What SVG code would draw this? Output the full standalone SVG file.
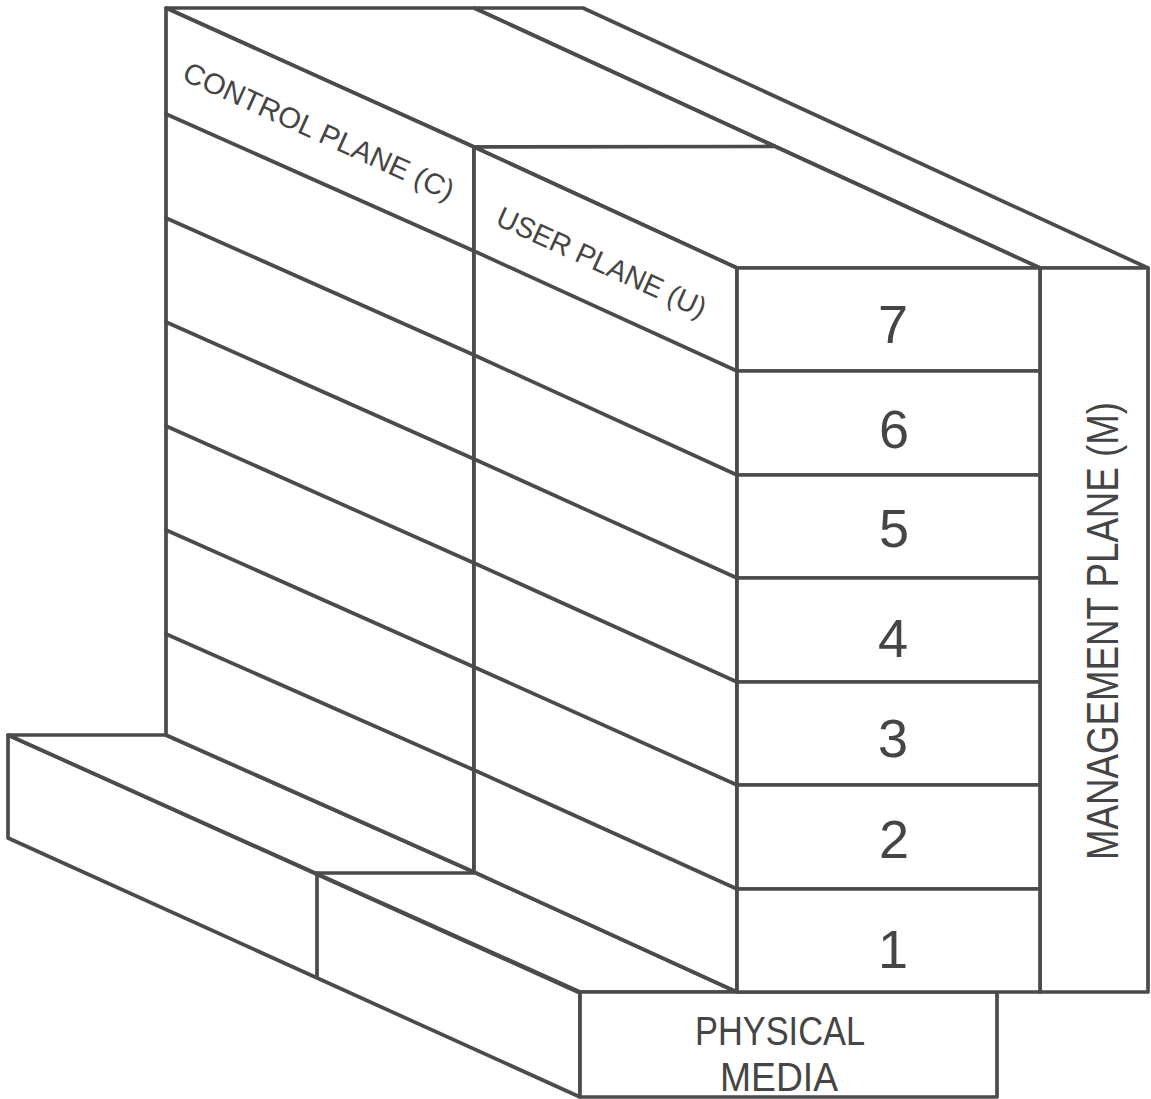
<svg xmlns="http://www.w3.org/2000/svg" width="1151" height="1099" viewBox="0 0 1151 1099">
  <style>
    .f { fill: #ffffff; stroke: #4b4b4b; stroke-width: 3.7; stroke-linejoin: round; }
    .l { fill: none; stroke: #4b4b4b; stroke-width: 3.7; stroke-linecap: round; }
    .t { font-family: "Liberation Sans", Arial, sans-serif; fill: #454545; }
    .lab { font-size: 29px; }
    .num { font-size: 54px; text-anchor: middle; }
    .big { font-size: 44px; text-anchor: middle; }
    .pm { font-size: 40px; text-anchor: middle; }
  </style>
  <rect x="0" y="0" width="1151" height="1099" fill="#ffffff"/>

  <g id="base">
    <polygon class="f" points="8,735 580,993 580,1097 8,838"/>
    <polygon class="f" points="8,735 166,735 474,872 737,992 580,992"/>
    <line class="l" x1="317" y1="873" x2="317" y2="977"/>
    <line class="l" x1="317" y1="873" x2="474" y2="873"/>
  </g>

  <g id="physical-media">
    <rect class="f" x="580" y="992" width="417" height="105"/>
    <text class="t pm" x="780" y="1045" textLength="170" lengthAdjust="spacingAndGlyphs">PHYSICAL</text>
    <text class="t pm" x="779" y="1091" textLength="118" lengthAdjust="spacingAndGlyphs">MEDIA</text>
  </g>

  <g id="management-plane">
    <polygon class="f" points="474,8 583,8 1148,268 1040,268"/>
    <rect class="f" x="1040" y="268" width="108" height="724"/>
    <text class="t big" transform="translate(1118,631) rotate(-90)" x="0" y="0" textLength="458" lengthAdjust="spacingAndGlyphs">MANAGEMENT PLANE (M)</text>
  </g>

  <g id="control-plane">
    <polygon class="f" points="166,8 474,8 775,146.5 474,147"/>
    <polygon class="f" points="166,8 474,147 474,872 166,735"/>
    <line class="l" x1="166" y1="114" x2="474" y2="251"/>
    <line class="l" x1="166" y1="218" x2="474" y2="355"/>
    <line class="l" x1="166" y1="322" x2="474" y2="459"/>
    <line class="l" x1="166" y1="426" x2="474" y2="563"/>
    <line class="l" x1="166" y1="530" x2="474" y2="667"/>
    <line class="l" x1="166" y1="634" x2="474" y2="770"/>
    <text class="t lab" transform="translate(166,8) rotate(24.4)" x="190" y="59" text-anchor="middle" textLength="294" lengthAdjust="spacingAndGlyphs">CONTROL PLANE (C)</text>
  </g>

  <g id="user-plane">
    <polygon class="f" points="474,147 775,146.5 1040,268 737,268"/>
    <polygon class="f" points="474,147 737,268 737,992 474,872"/>
    <line class="l" x1="474" y1="251" x2="737" y2="371"/>
    <line class="l" x1="474" y1="355" x2="737" y2="475"/>
    <line class="l" x1="474" y1="459" x2="737" y2="578"/>
    <line class="l" x1="474" y1="563" x2="737" y2="682"/>
    <line class="l" x1="474" y1="667" x2="737" y2="785"/>
    <line class="l" x1="474" y1="770" x2="737" y2="889"/>
    <text class="t lab" transform="translate(474,147) rotate(24.5)" x="164" y="62" text-anchor="middle" textLength="227" lengthAdjust="spacingAndGlyphs">USER PLANE (U)</text>
  </g>

  <g id="layers">
    <g id="layer-7">
      <rect class="f" x="737" y="268" width="303" height="103"/>
      <text class="t num" x="893" y="343">7</text>
    </g>
    <g id="layer-6">
      <rect class="f" x="737" y="371" width="303" height="104"/>
      <text class="t num" x="894" y="448">6</text>
    </g>
    <g id="layer-5">
      <rect class="f" x="737" y="475" width="303" height="103"/>
      <text class="t num" x="894" y="547">5</text>
    </g>
    <g id="layer-4">
      <rect class="f" x="737" y="578" width="303" height="104"/>
      <text class="t num" x="893" y="657">4</text>
    </g>
    <g id="layer-3">
      <rect class="f" x="737" y="682" width="303" height="103"/>
      <text class="t num" x="893" y="757">3</text>
    </g>
    <g id="layer-2">
      <rect class="f" x="737" y="785" width="303" height="104"/>
      <text class="t num" x="894" y="858">2</text>
    </g>
    <g id="layer-1">
      <rect class="f" x="737" y="889" width="303" height="103"/>
      <text class="t num" x="893" y="968">1</text>
    </g>
  </g>
</svg>
